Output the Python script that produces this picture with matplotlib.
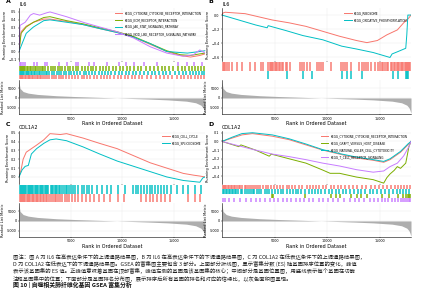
import numpy as np
import matplotlib
matplotlib.use("Agg")
import matplotlib.pyplot as plt

plt.rcParams['font.family'] = ['DejaVu Sans', 'Noto Sans CJK SC']

RED, GREEN, CYAN, PURPLE = "#F8766D", "#7CAE00", "#00BFC4", "#C77CFF"
N_GENES = 18000

# ranked list metric (rank in hundreds, metric)
rank_pos = [0, 1, 4, 9, 18, 36, 54, 72, 90, 108, 126, 144, 162, 171, 176, 178, 179, 180]
rank_metric = [1.0, 0.6, 0.4, 0.3, 0.22, 0.14, 0.09, 0.05, 0.01, -0.03, -0.07, -0.12,
               -0.2, -0.3, -0.45, -0.6, -0.75, -0.95]

# ---- panel A : IL6 up ----
a_names = ["KEGG_CYTOKINE_CYTOKINE_RECEPTOR_INTERACTION", "KEGG_ECM_RECEPTOR_INTERACTION",
           "KEGG_JAK_STAT_SIGNALING_PATHWAY", "KEGG_NOD_LIKE_RECEPTOR_SIGNALING_PATHWAY"]
a_red_x = [0, 2, 7, 14, 24, 30, 46, 62, 78, 95, 111, 127, 143, 156, 166, 175, 180]
a_red_y = [0, 0.25, 0.32, 0.37, 0.41, 0.41, 0.38, 0.34, 0.29, 0.24, 0.18, 0.09, 0.0, -0.05, -0.07, -0.05, -0.03]
a_green_x = [0, 2, 7, 14, 24, 30, 46, 62, 78, 95, 111, 127, 143, 156, 166, 175, 180]
a_green_y = [0, 0.23, 0.31, 0.37, 0.43, 0.44, 0.39, 0.35, 0.30, 0.25, 0.19, 0.10, 0.01, -0.04, -0.05, -0.03, -0.02]
a_cyan_x = [0, 3, 7, 14, 24, 30, 46, 62, 78, 95, 111, 127, 143, 163, 175, 180]
a_cyan_y = [0, 0.1, 0.23, 0.31, 0.39, 0.40, 0.37, 0.34, 0.29, 0.24, 0.18, 0.10, 0.0, -0.02, 0.0, 0.01]
a_purple_x = [0, 1, 6, 11, 14, 20, 27, 30, 46, 62, 78, 95, 111, 127, 143, 159, 169, 175, 180]
a_purple_y = [0, 0.33, 0.37, 0.46, 0.48, 0.46, 0.49, 0.5, 0.44, 0.37, 0.31, 0.25, 0.17, 0.06, -0.02, -0.06, -0.04, 0.02, -0.02]
a_hits_purple = [0, 1, 3, 5, 14, 17, 25, 27, 38, 46, 55, 57, 67, 72, 85, 96, 103, 111, 120, 133, 153, 162, 169, 177]
a_hits_green = [0, 1, 2, 3, 4, 5, 7, 8, 10, 11, 13, 15, 16, 18, 20, 22, 23, 25, 28, 30, 32, 34, 37, 39, 41, 44,
                47, 49, 52, 55, 57, 60, 63, 66, 69, 71, 74, 78, 81, 84, 87, 90, 93, 97, 100, 104, 107, 111, 115,
                118, 122, 126, 130, 134, 138, 141, 145, 149, 153, 157, 160, 164, 167, 170, 173, 176, 179]
a_hits_cyan = [0, 1, 2, 3, 4, 6, 7, 8, 9, 11, 12, 14, 15, 17, 19, 20, 22, 24, 26, 27, 29, 31, 33, 36, 38, 40, 43,
               45, 48, 50, 53, 56, 59, 62, 64, 67, 70, 73, 77, 80, 83, 86, 89, 92, 96, 99, 103, 106, 110, 113, 117,
               120, 124, 128, 131, 135, 139, 142, 146, 150, 154, 158, 161, 165, 168, 171, 174, 177, 179]
a_hits_red = [0, 1, 2, 3, 5, 6, 8, 9, 10, 12, 13, 15, 17, 18, 20, 21, 23, 25, 27, 29, 31, 33, 35, 38, 40, 42, 45,
              48, 51, 54, 57, 60, 62, 65, 68, 72, 75, 79, 82, 85, 88, 91, 95, 98, 102, 105, 109, 112, 116, 119,
              123, 127, 132, 136, 140, 144, 148, 152, 156, 159, 163, 166, 170, 173, 176, 179]

# ---- panel B : IL6 down ----
b_names = ["KEGG_RIBOSOME", "KEGG_OXIDATIVE_PHOSPHORYLATION"]
b_red_x = [0, 1, 3, 22, 48, 64, 80, 96, 112, 128, 138, 148, 157, 167, 173, 178, 180]
b_red_y = [0, 0.03, 0.04, 0.02, -0.07, -0.11, -0.16, -0.23, -0.30, -0.36, -0.39, -0.36, -0.28, -0.21, -0.11, -0.04, 0.0]
b_cyan_x = [0, 32, 43, 44, 61, 77, 96, 114, 128, 144, 160, 162, 167, 175, 176, 177, 180]
b_cyan_y = [0, -0.14, -0.18, -0.15, -0.22, -0.29, -0.35, -0.44, -0.48, -0.53, -0.60, -0.55, -0.52, -0.47,
            -0.28, 0.0, 0.0]
b_hits_red = [0, 1, 2, 4, 6, 9, 14, 19, 26, 31, 37, 39, 43, 45, 46, 47, 48, 50, 51, 52, 54, 55, 57, 58, 60, 61,
              64, 74, 76, 78, 80, 83, 90, 92, 94, 96, 103, 113, 115, 117, 119, 122, 130, 133, 135, 137, 139, 141,
              145, 148, 150, 152, 153, 155, 157, 158, 160, 161, 163, 164, 166, 167, 168, 170, 171, 172, 174, 175,
              176, 177, 178, 179]
b_hits_cyan = [43, 61, 77, 85, 114, 119, 122, 133, 162, 167, 175, 176, 177]

# ---- panel C : COL1A2 up ----
c_names = ["KEGG_CELL_CYCLE", "KEGG_SPLICEOSOME"]
c_red_x = [0, 2, 4, 7, 12, 17, 24, 30, 40, 46, 62, 78, 95, 111, 127, 143, 159, 169, 175, 180]
c_red_y = [0, 0.08, 0.2, 0.28, 0.32, 0.36, 0.42, 0.49, 0.48, 0.49, 0.44, 0.38, 0.32, 0.24, 0.16, 0.1, 0.04,
           0.02, 0.01, 0.0]
c_cyan_x = [0, 3, 6, 9, 12, 17, 24, 30, 36, 46, 62, 78, 95, 111, 127, 143, 159, 175, 178, 180]
c_cyan_y = [0, 0.08, 0.12, 0.13, 0.26, 0.32, 0.38, 0.42, 0.43, 0.41, 0.34, 0.26, 0.18, 0.12, 0.06, 0.0, -0.04,
            -0.06, -0.01, 0.0]
c_hits_cyan = [0, 1, 2, 3, 4, 5, 6, 8, 9, 10, 11, 12, 13, 15, 16, 17, 18, 20, 21, 22, 23, 25, 26, 27, 28, 30, 31,
               32, 34, 35, 36, 38, 39, 41, 43, 45, 46, 48, 50, 52, 54, 57, 60, 62, 65, 67, 70, 75, 80, 85, 89, 95,
               102, 110, 113, 115, 118, 120, 123, 126, 128, 131, 134, 137, 140, 143, 147, 152, 158, 163, 170, 176]
c_hits_red = [0, 1, 2, 3, 4, 5, 7, 8, 9, 10, 12, 13, 14, 16, 17, 18, 20, 21, 23, 24, 26, 27, 29, 30, 32, 34, 35,
              37, 39, 41, 44, 46, 48, 51, 54, 57, 60, 64, 68, 72, 77, 82, 88, 95, 101, 118, 122, 126, 129, 133,
              137, 141, 146, 163, 170, 175]

# ---- panel D : COL1A2 down ----
d_names = ["KEGG_CYTOKINE_CYTOKINE_RECEPTOR_INTERACTION", "KEGG_GRAFT_VERSUS_HOST_DISEASE",
           "KEGG_NATURAL_KILLER_CELL_CYTOTOXICITY", "KEGG_T_CELL_RECEPTOR_SIGNALING"]
d_red_x = [0, 10, 19, 29, 48, 64, 80, 96, 112, 128, 144, 154, 160, 170, 177, 180]
d_red_y = [0, 0.04, 0.075, 0.09, 0.06, 0.02, -0.04, -0.1, -0.146, -0.19, -0.217, -0.24, -0.21, -0.125, -0.04, 0]
d_cyan_x = [0, 10, 19, 29, 48, 64, 80, 96, 112, 128, 144, 154, 160, 170, 177, 180]
d_cyan_y = [0, 0.05, 0.09, 0.1, 0.075, 0.03, -0.03, -0.095, -0.14, -0.18, -0.21, -0.23, -0.2, -0.115, -0.03, 0]
d_purple_x = [0, 6, 19, 32, 48, 64, 80, 96, 112, 128, 144, 154, 160, 167, 173, 178, 180]
d_purple_y = [0, -0.02, -0.06, -0.1, -0.146, -0.175, -0.21, -0.25, -0.283, -0.325, -0.354, -0.34, -0.29,
              -0.25, -0.167, -0.06, 0]
d_green_x = [0, 16, 18, 32, 45, 47, 64, 80, 96, 103, 112, 128, 144, 154, 157, 160, 164, 167, 170, 175, 177, 178, 180]
d_green_y = [0, -0.06, -0.04, -0.1, -0.17, -0.146, -0.2, -0.25, -0.33, -0.367, -0.367, -0.41, -0.44, -0.48,
             -0.417, -0.375, -0.333, -0.29, -0.31, -0.25, -0.125, -0.06, 0]
d_hits_red = [0, 1, 2, 3, 5, 6, 8, 9, 11, 12, 14, 16, 17, 19, 21, 22, 24, 26, 28, 30, 32, 34, 36, 39, 41, 43, 46,
              49, 52, 55, 58, 61, 63, 66, 69, 73, 76, 80, 83, 86, 89, 92, 96, 99, 103, 106, 110, 113, 117, 120,
              124, 128, 133, 137, 141, 145, 149, 153, 157, 160, 164, 167, 170, 173, 176, 179]
d_hits_cyan = [0, 1, 3, 4, 6, 7, 9, 10, 12, 13, 15, 18, 19, 21, 23, 25, 27, 29, 30, 33, 35, 37, 40, 42, 44, 47, 50,
               53, 56, 58, 61, 64, 67, 70, 72, 75, 79, 82, 85, 88, 91, 94, 98, 101, 104, 108, 111, 115, 118, 121,
               125, 129, 132, 136, 140, 143, 147, 151, 155, 159, 162, 166, 169, 172, 175, 178]
d_hits_green = [47, 48, 79, 103, 108, 112, 122, 128, 132, 138, 152, 159, 167, 172, 175, 177, 178, 179]
d_hits_purple = [0, 2, 6, 11, 17, 22, 27, 32, 36, 40, 45, 49, 53, 58, 61, 65, 70, 74, 78, 82, 86, 92, 96, 100, 105,
                 110, 116, 121, 126, 130, 135, 140, 144, 148, 152, 155, 158, 161, 164, 167, 170, 172, 174, 176,
                 178, 179]


def style_axis(ax):
    ax.tick_params(labelsize=2.4, length=1, width=0.3, pad=0.8)
    for s in ax.spines.values():
        s.set_linewidth(0.4)
    ax.grid(True, color="#ebebeb", linewidth=0.3)
    ax.set_axisbelow(True)


def draw_panel(fig, left, width, ys, letter, title, curves, names, hit_rows, ylim, yticks):
    es_y, hit_y, rk_y = ys
    ax = fig.add_axes([left, es_y[0], width, es_y[1]])
    for (x, y), (col, lab) in zip(curves, names):
        ax.plot(np.array(x) * 100, y, color=col, lw=0.7, label=lab)
    ax.set_xlim(0, N_GENES)
    ax.set_ylim(*ylim)
    ax.set_yticks(yticks)
    ax.set_xticks([5000, 10000, 15000])
    ax.set_xticklabels([])
    ax.tick_params(axis="x", length=0)
    style_axis(ax)
    for s in ["top", "right", "bottom"]:
        ax.spines[s].set_visible(False)
    ax.set_ylabel("Running Enrichment Score", fontsize=2.6, labelpad=1)
    ax.set_title(title, fontsize=3.5, loc="left", pad=1.5, x=0.0)
    ax.text(-0.07, 1.09, letter, transform=ax.transAxes, fontsize=4.5, fontweight="bold")
    ax.legend(loc="upper right", fontsize=2.1, frameon=False, handlelength=2.5,
              borderaxespad=0.8, labelspacing=1.0)

    hx = fig.add_axes([left, hit_y[0], width, hit_y[1]])
    n = len(hit_rows)
    for i, (hits, col) in enumerate(hit_rows):
        hx.vlines(np.array(hits) * 100 + 50, n - i - 1, n - i, color=col, lw=1.4, alpha=0.75)
    hx.set_xlim(0, N_GENES)
    hx.set_ylim(0, n)
    hx.axis("off")

    rx = fig.add_axes([left, rk_y[0], width, rk_y[1]])
    xs = np.array(rank_pos) * 100
    rx.fill_between(xs, 0, rank_metric, color="#9a9a9a", alpha=0.8, lw=0)
    rx.set_xlim(0, N_GENES)
    rx.set_ylim(-1.0, 1.12)
    rx.set_yticks([0.6, 0, -0.6])
    rx.set_yticklabels(["5000", "0", "-5000"])
    rx.set_xticks([5000, 10000, 15000])
    style_axis(rx)
    rx.spines["top"].set_visible(False)
    rx.spines["right"].set_visible(False)
    rx.set_ylabel("Ranked List Metric", fontsize=2.6, labelpad=1)
    rx.set_xlabel("Rank in Ordered Dataset", fontsize=3.5, labelpad=0.5)


fig = plt.figure(figsize=(4.48, 3.0), dpi=100)


def yrows(top):
    # convert pixel rows (from top) to figure fractions
    es = (1 - (top + 53) / 300, 53 / 300)
    hit = (1 - (top + 71) / 300, 17 / 300)
    rk = (1 - (top + 106) / 300, 34 / 300)
    return es, hit, rk


left_a, w_a = 19 / 448, 186 / 448
left_b, w_b = 222 / 448, 189 / 448

draw_panel(fig, left_a, w_a, yrows(8), "A", "IL6",
           [(a_red_x, a_red_y), (a_green_x, a_green_y), (a_cyan_x, a_cyan_y), (a_purple_x, a_purple_y)],
           list(zip([RED, GREEN, CYAN, PURPLE], a_names)),
           [(a_hits_purple, PURPLE), (a_hits_green, GREEN), (a_hits_cyan, CYAN), (a_hits_red, RED)],
           (-0.12, 0.55), [0.5, 0.4, 0.3, 0.2, 0.1, 0.0, -0.1])

draw_panel(fig, left_b, w_b, yrows(8), "B", "IL6",
           [(b_red_x, b_red_y), (b_cyan_x, b_cyan_y)],
           list(zip([RED, CYAN], b_names)),
           [(b_hits_red, RED), (b_hits_cyan, CYAN)],
           (-0.65, 0.1), [0.0, -0.2, -0.4, -0.6])

draw_panel(fig, left_a, w_a, yrows(131), "C", "COL1A2",
           [(c_red_x, c_red_y), (c_cyan_x, c_cyan_y)],
           list(zip([RED, CYAN], c_names)),
           [(c_hits_cyan, CYAN), (c_hits_red, RED)],
           (-0.08, 0.52), [0.5, 0.4, 0.3, 0.2, 0.1, 0.0])

draw_panel(fig, left_b, w_b, yrows(131), "D", "COL1A2",
           [(d_red_x, d_red_y), (d_green_x, d_green_y), (d_cyan_x, d_cyan_y), (d_purple_x, d_purple_y)],
           list(zip([RED, GREEN, CYAN, PURPLE], d_names)),
           [(d_hits_red, RED), (d_hits_cyan, CYAN), (d_hits_green, GREEN), (d_hits_purple, PURPLE)],
           (-0.49, 0.12), [0.1, 0.0, -0.1, -0.2, -0.3, -0.4])

caption = [
    "图注：图 A 为 IL6 在高表达条件下的上调通路结果图，B 为 IL6 在高表达条件下的下调通路结果图，C 为 COL1A2 在低表达条件下的上调通路结果图，",
    "D 为 COL1A2 在低表达下的下调通路结果图。GSEA 的富集图主要包含 3 部分。上面部分折线图，显示富集分数 (ES) 随基因排序位置的变化，峰值",
    "表示该基因集的 ES 值。正峰值意味着基因在顶部富集，峰值左侧的基因是该基因集的核心；中间部分是基因位置图，用竖线表示每个基因在功能",
    "注释基因集中的位置；下面部分是基因排名分布图，展示排序后所有基因的排名和对应的信噪比，以灰色面积图呈现。",
]
cap_font = ['Noto Sans CJK SC', 'DejaVu Sans']
for i, line in enumerate(caption):
    fig.text(13 / 448, 1 - (257 + 7 * i) / 300, line, fontsize=3.85, family=cap_font,
             va="center", color="#222222")
fig.text(13 / 448, 1 - 285 / 300, "图 10 | 自噬相关肺纤维化基因 GSEA 富集分析", fontsize=4.2,
         family=cap_font, va="center", fontweight="bold", color="#111111")

fig.savefig("out.png", dpi=100)
